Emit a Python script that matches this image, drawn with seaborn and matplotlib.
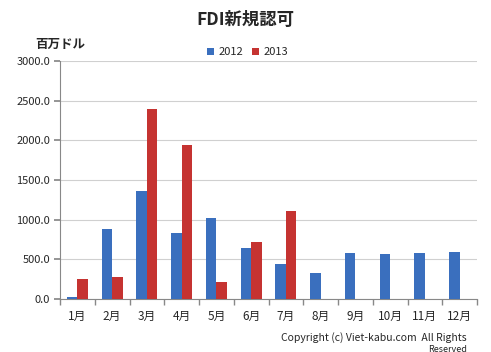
import pandas as pd
import numpy as np
import seaborn as sns
import matplotlib.pyplot as plt

months = ['1月', '2月', '3月', '4月', '5月', '6月', '7月', '8月', '9月', '10月', '11月', '12月']
fdi_2012 = [25, 880, 1360, 830, 1020, 640, 440, 325, 575, 565, 575, 590]
fdi_2013 = [250, 275, 2400, 1940, 215, 720, 1110, None, None, None, None, None]

rows = []
for m, a, b in zip(months, fdi_2012, fdi_2013):
    rows.append({'month': m, 'year': '2012', 'value': a})
    if b is not None:
        rows.append({'month': m, 'year': '2013', 'value': b})
df = pd.DataFrame(rows)

sns.set_theme(style='white')
plt.rcParams['font.family'] = ['Noto Sans CJK JP', 'DejaVu Sans']

fig = plt.figure(figsize=(4.91, 3.52), dpi=100)
ax = fig.add_axes([60/491, 1 - 299/352, 417/491, 238/352])

sns.barplot(data=df, x='month', y='value', hue='year', order=months,
            palette={'2012': '#3a6fbe', '2013': '#c53331'}, saturation=1,
            width=0.6, gap=0, edgecolor='none', errorbar=None, ax=ax, zorder=3)

ax.set_ylim(0, 3000)
ax.set_yticks(np.arange(0, 3001, 500))
ax.set_yticklabels([f'{v:.1f}' for v in np.arange(0, 3001, 500)], fontsize=8)
ax.yaxis.grid(True, color='#d0d0d0', linewidth=0.8, zorder=0)
ax.set_axisbelow(True)
ax.set_xlim(-0.5, 11.5)
ax.set_xlabel('')
ax.set_ylabel('')
ax.tick_params(axis='x', labelsize=8.5, length=0, pad=8)
ax.tick_params(axis='y', length=4, color='#888888', left=True, pad=3)
# category boundary ticks on x axis
ax.set_xticks(np.arange(-0.5, 12, 1), minor=True)
ax.tick_params(axis='x', which='minor', length=4, color='#888888', bottom=True)
for s in ['top', 'right']:
    ax.spines[s].set_visible(False)
for s in ['left', 'bottom']:
    ax.spines[s].set_color('#888888')
    ax.spines[s].set_linewidth(0.8)

ax.legend(loc='upper center', bbox_to_anchor=(0.45, 1.1), ncol=2, frameon=False,
          fontsize=8, handlelength=0.6, handleheight=0.6, handletextpad=0.4, columnspacing=0.8)

fig.text(0.5, 1 - 20/352, 'FDI新規認可', ha='center', va='center', fontsize=12.5, fontweight='bold')
fig.text(60/491, 1 - 44/352, '百万ドル', ha='center', va='center', fontsize=9, fontweight='bold')
fig.text(467/491, 1 - 338/352, 'Copyright (c) Viet-kabu.com  All Rights', ha='right', va='center', fontsize=7.5)
fig.text(467/491, 1 - 349/352, 'Reserved', ha='right', va='center', fontsize=6.5)

fig.savefig('out.png', dpi=100)
